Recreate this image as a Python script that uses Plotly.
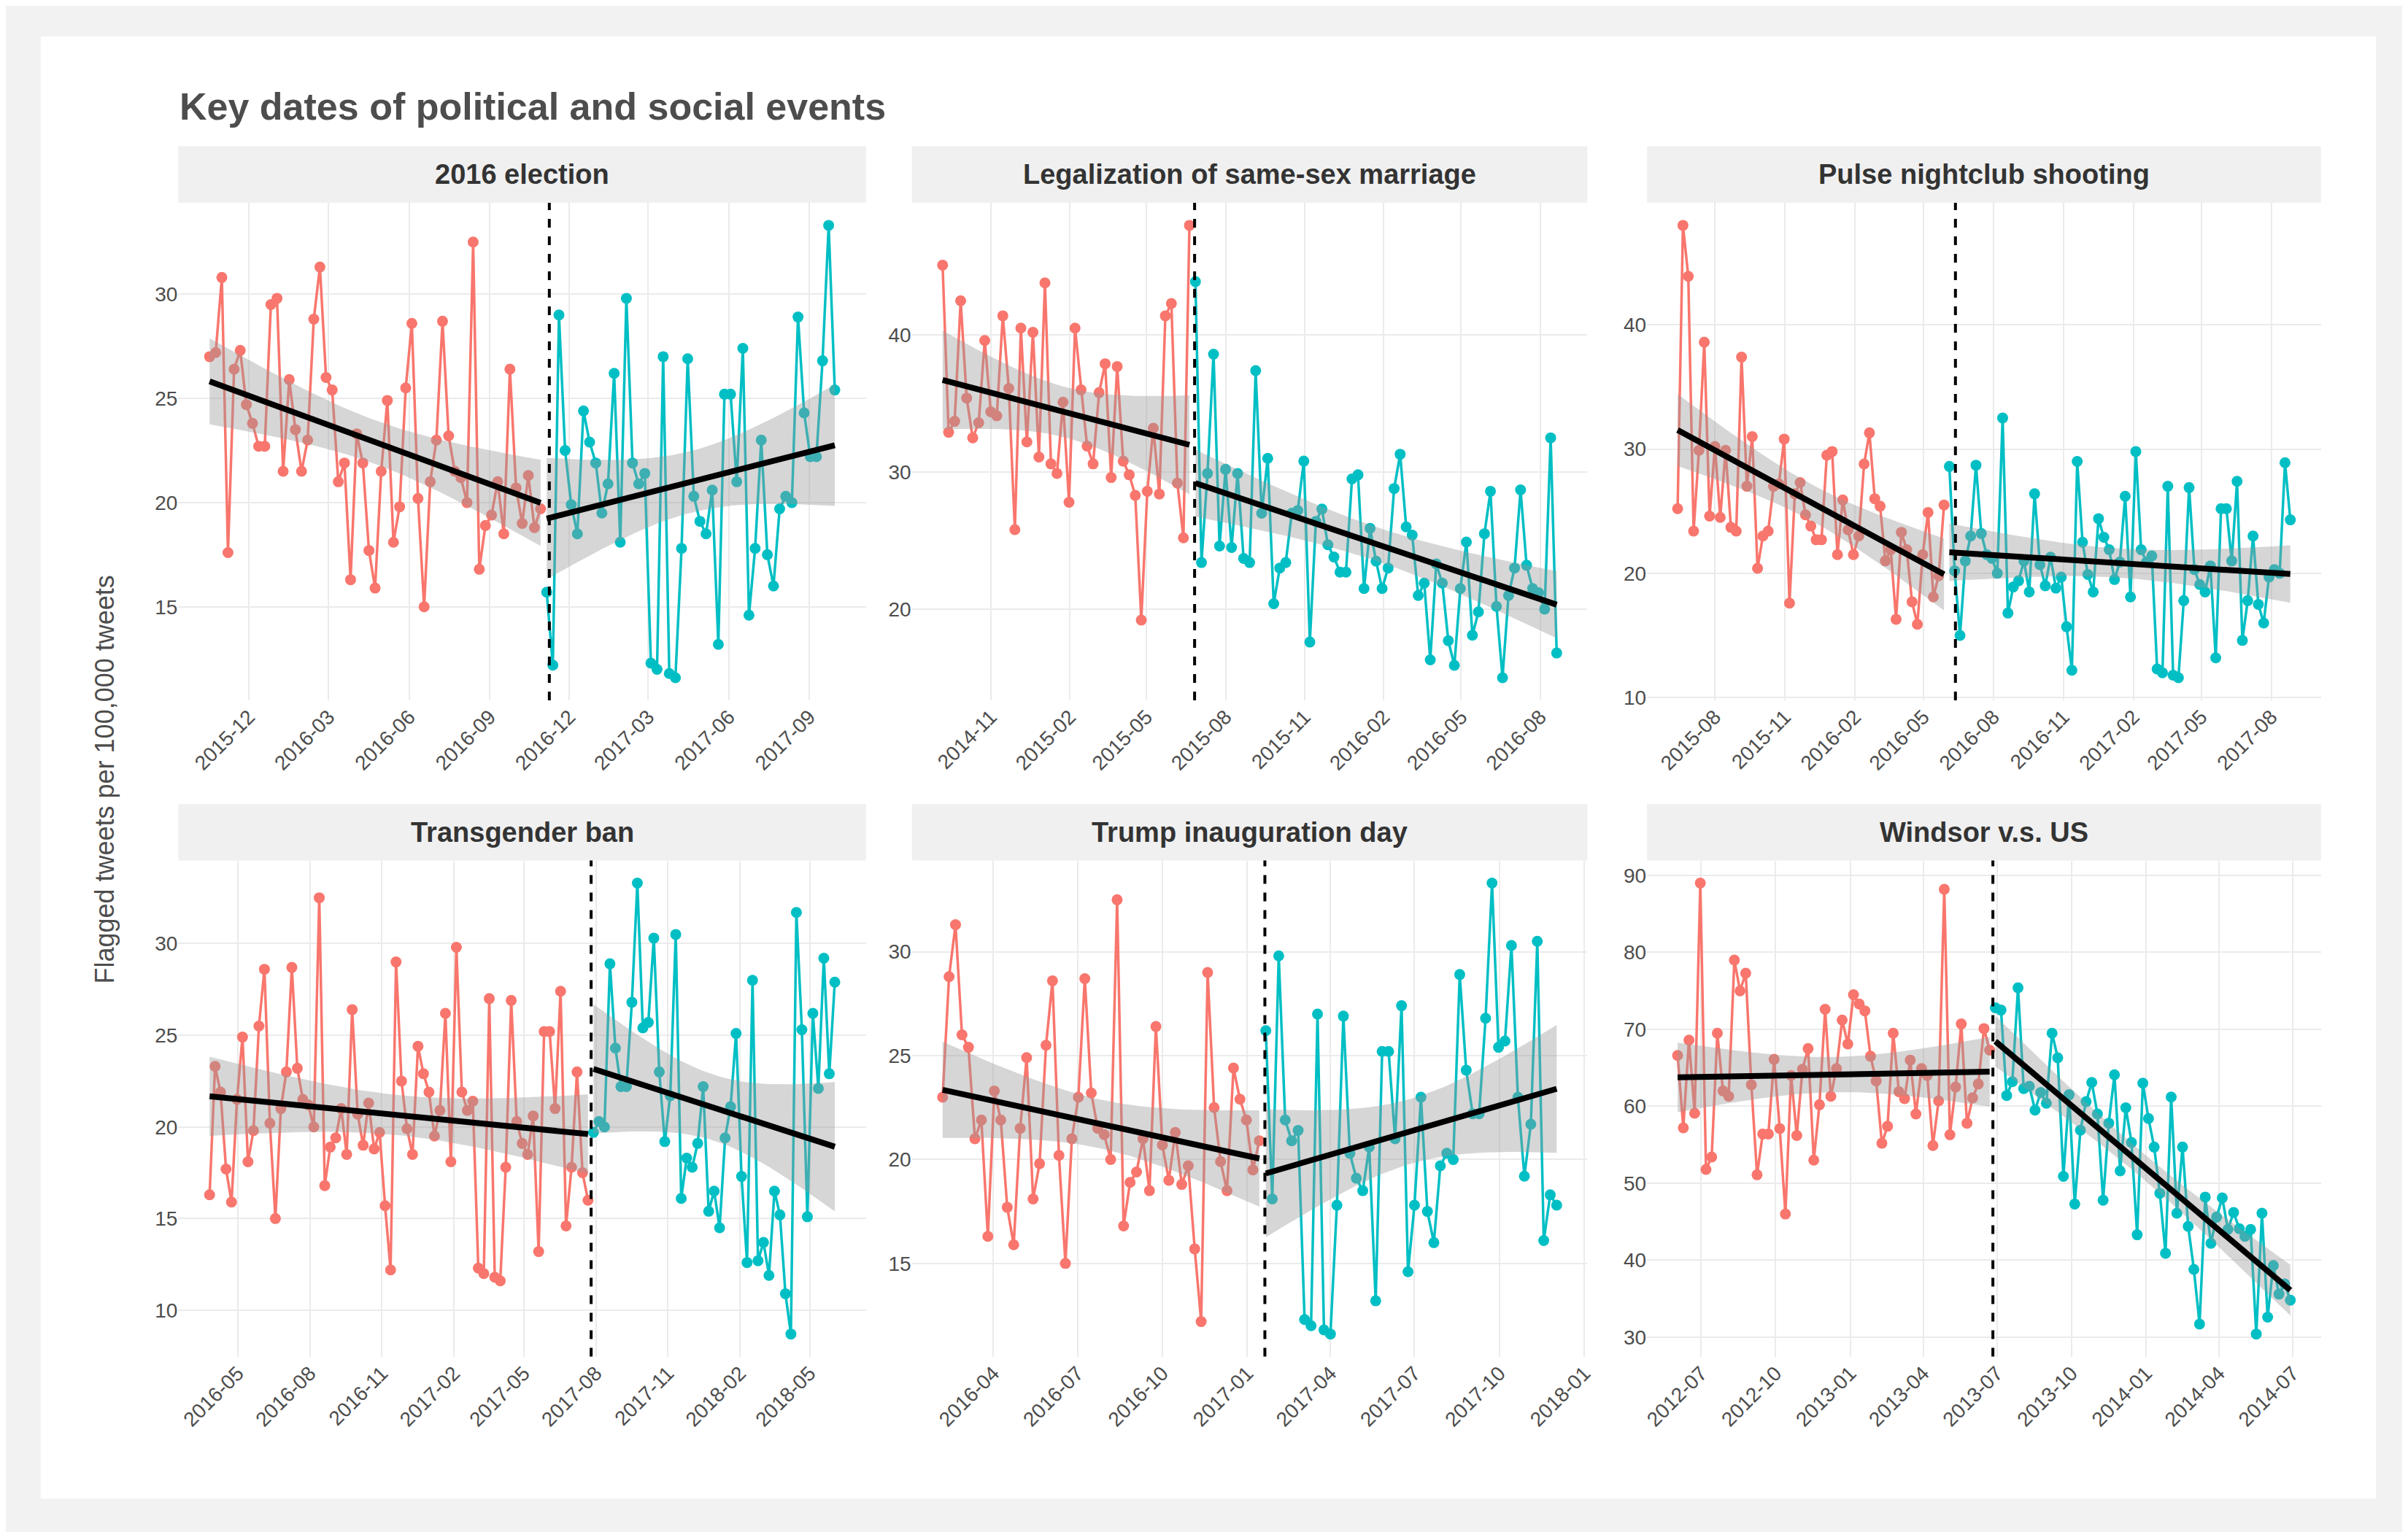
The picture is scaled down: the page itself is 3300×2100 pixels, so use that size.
import numpy as np
import pandas as pd
import plotly.graph_objects as go

# weekly flagged-tweet rates (per 100,000)
leg_pre = [45.1, 32.9, 33.7, 42.5, 35.4, 32.5, 33.6, 39.6, 34.4, 34.1, 41.4, 36.1, 25.8, 40.5,
           32.2, 40.2, 31.1, 43.8, 30.6, 29.9, 35.1, 27.8, 40.5, 36.0, 31.9, 30.6, 35.8, 37.9,
           29.6, 37.7, 30.8, 29.8, 28.3, 19.2, 28.6, 33.2, 28.4, 41.4, 42.3, 29.2, 25.2, 48.0]
bridge = [43.9, 23.4, 29.9, 38.6, 24.6, 30.2, 24.5, 29.9, 23.7, 23.4, 37.4, 27.0, 31.0, 20.4,
          23.0, 23.4]
elec_pre = [27.0, 27.2, 30.8, 17.6, 26.4, 27.3, 24.7, 23.8, 22.7, 22.7, 29.5, 29.8, 21.5, 25.9,
            23.5, 21.5, 23.0, 28.8, 31.3, 26.0, 25.4, 21.0, 21.9, 16.3, 23.3, 21.9, 17.7, 15.9,
            21.5, 24.9, 18.1, 19.8, 25.5, 28.6, 20.2, 15.0, 21.0, 23.0, 28.7, 23.2, 21.5, 21.2,
            20.0, 32.5, 16.8, 18.9, 19.4, 21.0, 18.5, 26.4, 20.7, 19.0, 21.3, 18.8, 19.7]
elec_post = [15.7, 12.2, 29.0, 22.5, 19.9, 18.5, 24.4, 22.9, 21.9, 19.5, 20.9, 26.2, 18.1, 29.8,
             21.9, 20.9, 21.4, 12.3, 12.0, 27.0, 11.8, 11.6, 17.8, 26.9, 20.3, 19.1, 18.5, 20.6,
             13.2, 25.2, 25.2, 21.0, 27.4, 14.6, 17.8, 23.0, 17.5, 16.0, 19.7, 20.3, 20.0, 28.9,
             24.3, 22.2, 22.2, 26.8, 33.3, 25.4]
tail = [25.7, 30.3, 23.0, 19.2, 21.7, 30.5, 16.1, 18.3, 17.8, 19.1, 22.2, 15.4, 16.5, 14.5,
        19.4, 21.1, 25.1, 17.3, 12.6, 28.0, 12.7, 13.7, 11.9, 16.5, 15.2, 10.9, 8.7, 31.7,
        25.3, 15.1, 26.2, 22.1, 29.2, 22.9, 27.9]
windsor_pre = [66.6, 57.2, 68.6, 59.1, 89.0, 51.8, 53.4, 69.5, 62.0, 61.3, 79.0, 75.0, 77.3, 62.8,
               51.1, 56.4, 56.4, 66.1, 57.1, 46.0, 64.0, 56.2, 64.8, 67.5, 53.0, 60.2, 72.6, 61.3,
               64.9, 71.2, 68.1, 74.5, 73.3, 72.4, 66.5, 63.3, 55.2, 57.4, 69.5, 61.9, 61.0, 66.0,
               59.0, 64.9, 64.0, 54.9, 60.7, 88.2, 56.3, 62.5, 70.7, 57.8, 61.1, 62.9, 70.1, 67.3]
windsor_post = [72.8, 72.5, 61.4, 63.2, 75.4, 62.3, 62.6, 59.5, 61.8, 60.4, 69.5, 66.3, 50.9, 61.5,
                47.3, 56.9, 60.6, 63.1, 59.0, 47.8, 57.8, 64.1, 51.6, 59.8, 55.3, 43.3, 63.0, 58.4,
                54.7, 48.7, 40.9, 61.2, 46.1, 54.7, 44.4, 38.8, 31.7, 48.2, 42.2, 45.6, 48.1, 44.0,
                46.2, 44.1, 43.1, 44.0, 30.4, 46.1, 32.6, 39.3, 35.6, 36.9, 34.8]

vals = leg_pre + bridge + elec_pre + elec_post + tail
master = pd.Series(vals, index=pd.date_range("2014-09-06", periods=len(vals), freq="7D"))
wvals = windsor_pre + windsor_post
windsor = pd.Series(wvals, index=pd.date_range("2012-06-02", periods=len(wvals), freq="7D"))

# title, series, window start, split, end, event date, first x tick, y dtick
panels = [
    ("2016 election", master, "2015-10-17", "2016-11-05", "2017-09-30", "2016-11-08", "2015-12-01", 5),
    ("Legalization of same-sex marriage", master, "2014-09-06", "2015-06-27", "2016-08-20", "2015-06-26", "2014-11-01", 10),
    ("Pulse nightclub shooting", master, "2015-06-13", "2016-06-04", "2017-08-26", "2016-06-12", "2015-08-01", 10),
    ("Transgender ban", master, "2016-03-26", "2017-07-29", "2018-06-02", "2017-07-26", "2016-05-01", 5),
    ("Trump inauguration day", master, "2016-02-06", "2017-01-21", "2017-12-02", "2017-01-20", "2016-04-01", 5),
    ("Windsor v.s. US", windsor, "2012-06-02", "2013-06-29", "2014-06-28", "2013-06-26", "2012-07-01", 10),
]

W, H = 1568, 998
xdom = [(110 / W, 560 / W), (590 / W, 1032 / W), (1071 / W, 1512 / W)]
ydom = [(1 - 455 / H, 1 - 129 / H), (1 - 885 / H, 1 - 560 / H)]
strip_h = 37 / H

RED, CYAN = "#F8766D", "#00BFC4"
fig = go.Figure()
layout = {}
shapes = [dict(type="rect", xref="paper", yref="paper", x0=20 / W, x1=1548 / W, y0=20 / H, y1=978 / H,
               fillcolor="white", line_width=0, layer="below")]
annotations = []


def lm_band(d, y):
    t = (d - d[0]).days.values.astype(float)
    b, a = np.polyfit(t, y, 1)
    fit = a + b * t
    n = len(t)
    s = np.sqrt(np.sum((y - fit) ** 2) / (n - 2))
    se = s * np.sqrt(1 / n + (t - t.mean()) ** 2 / np.sum((t - t.mean()) ** 2))
    return fit, fit - 2.01 * se, fit + 2.01 * se


for i, (name, ser, start, split, end, event, tick0, dt) in enumerate(panels):
    r, c = divmod(i, 3)
    k = i + 1
    xa, ya = ("x" if k == 1 else f"x{k}"), ("y" if k == 1 else f"y{k}")
    win = ser[(ser.index >= start) & (ser.index <= end)]
    pre = win[win.index < split]
    post = win[win.index >= split]
    lo_all, hi_all = [], []
    for part, col in [(pre, RED), (post, CYAN)]:
        fig.add_trace(go.Scatter(x=part.index, y=part.values, mode="lines+markers",
                                 line=dict(color=col, width=3.5), marker=dict(color=col, size=15),
                                 xaxis=xa, yaxis=ya, showlegend=False))
    for part in [pre, post]:
        fit, lo, hi = lm_band(part.index, part.values)
        lo_all += list(lo); hi_all += list(hi)
        fig.add_trace(go.Scatter(x=list(part.index) + list(part.index[::-1]), y=list(hi) + list(lo[::-1]),
                                 fill="toself", fillcolor="rgba(153,153,153,0.4)", line_width=0,
                                 mode="lines", xaxis=xa, yaxis=ya, showlegend=False, hoverinfo="skip"))
        fig.add_trace(go.Scatter(x=part.index, y=fit, mode="lines", line=dict(color="black", width=8),
                                 xaxis=xa, yaxis=ya, showlegend=False))
    ymin = min(win.min(), min(lo_all)); ymax = max(win.max(), max(hi_all))
    pad = (ymax - ymin) * 0.05
    x0, x1 = win.index[0], win.index[-1]
    xpad = (x1 - x0) * 0.05
    layout[f"xaxis{'' if k == 1 else k}"] = dict(
        domain=xdom[c], anchor=ya, range=[x0 - xpad, x1 + xpad], dtick="M3", tick0=tick0,
        tickformat="%Y-%m", tickangle=-45, showgrid=True, gridcolor="#ebebeb", gridwidth=2,
        zeroline=False, showline=False, ticks="", tickfont=dict(size=28, color="#4d4d4d"))
    layout[f"yaxis{'' if k == 1 else k}"] = dict(
        domain=ydom[r], anchor=xa, range=[ymin - pad, ymax + pad], dtick=dt,
        showgrid=True, gridcolor="#ebebeb", gridwidth=2, zeroline=False, showline=False, ticks="",
        tickfont=dict(size=28, color="#4d4d4d"))
    shapes.append(dict(type="line", xref=xa, yref=f"{ya} domain", x0=event, x1=event, y0=0, y1=1,
                       line=dict(color="black", width=4, dash="dash")))
    shapes.append(dict(type="rect", xref="paper", yref="paper", x0=xdom[c][0], x1=xdom[c][1],
                       y0=ydom[r][1], y1=ydom[r][1] + strip_h, fillcolor="#f0f0f0", line_width=0,
                       layer="below"))
    annotations.append(dict(text=f"<b>{name}</b>", xref="paper", yref="paper",
                            x=(xdom[c][0] + xdom[c][1]) / 2, y=ydom[r][1] + strip_h / 2,
                            xanchor="center", yanchor="middle",
                            showarrow=False, font=dict(size=38, color="#333333")))

annotations.append(dict(text="<b>Key dates of political and social events</b>", xref="paper", yref="paper",
                        x=110 / W, y=1 - 66 / H, xanchor="left", yanchor="middle", showarrow=False,
                        font=dict(size=52, color="#4d4d4d")))
annotations.append(dict(text="Flagged tweets per 100,000 tweets", xref="paper", yref="paper",
                        x=62 / W, y=1 - 507 / H, textangle=-90, xanchor="center", yanchor="middle",
                        showarrow=False, font=dict(size=36, color="#4d4d4d")))

fig.update_layout(width=3300, height=2100, margin=dict(l=0, r=0, t=0, b=0),
                  paper_bgcolor="#f2f2f2", plot_bgcolor="white",
                  font=dict(family="Liberation Sans, Arial, sans-serif"),
                  shapes=shapes, annotations=annotations, **layout)
fig.write_html("out.html")
